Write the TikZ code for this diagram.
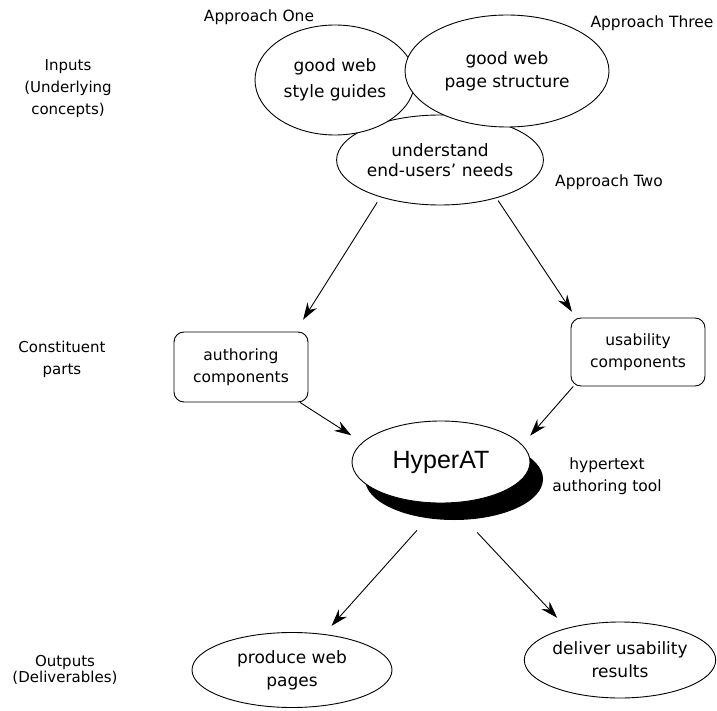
\documentclass[tikz,border=0pt]{standalone}
\usepackage{fontspec}
\setmainfont{DejaVu Sans}
\newfontfamily\helv{Liberation Sans}
\usetikzlibrary{shapes.geometric,arrows.meta}

\begin{document}
\begin{tikzpicture}[x=1pt,y=-1pt,
  bubble/.style={ellipse, draw, line width=0.9pt, fill=white, inner sep=0pt,
    align=center, font=\fontsize{17}{23}\selectfont},
  part/.style={rectangle, rounded corners=10pt, draw, line width=0.9pt,
    inner sep=0pt, minimum width=134pt, align=center,
    font=\fontsize{15.5}{22}\selectfont},
  side/.style={align=center, font=\fontsize{15}{22}\selectfont},
  tag/.style={align=center, font=\fontsize{15.5}{22}\selectfont},
  arr/.style={-{Stealth[length=17pt,width=11pt]}, line width=0.9pt},
]
\useasboundingbox (0,0) rectangle (717,711);

% the three approaches, overlapping
\node[bubble, minimum width=206pt, minimum height=90pt,
      font=\fontsize{17}{20}\selectfont] (e3) at (440,160) {understand\\end-users' needs};
\node[bubble, minimum width=160pt, minimum height=110pt,
      font=\fontsize{17}{26}\selectfont] (e1) at (335,80) {good web\\style guides};
\node[bubble, minimum width=204pt, minimum height=112pt] (e2) at (507,71) {good web\\page structure};

\node[tag] (a1) at (259,17) {Approach One};
\node[tag] (a3) at (652,23) {Approach Three};
\node[tag] (a2) at (609,182) {Approach Two};

% constituent parts
\node[part, minimum height=70pt] (pa) at (241,367) {authoring\\components};
\node[part, minimum height=68pt] (pu) at (638,352) {usability\\components};

% the tool, with its drop shadow
\node[ellipse, fill=black, inner sep=0pt, minimum width=178pt, minimum height=82pt]
      (hyshade) at (454,479) {};
\node[bubble, minimum width=178pt, minimum height=82pt,
      font=\helv\fontsize{25}{28}\selectfont] (hy) at (441,462) {HyperAT};
\node[tag] (hytag) at (607,476) {hypertext\\authoring tool};

% deliverables
\node[bubble, minimum width=200pt, minimum height=75pt] (prod) at (292,670) {produce web\\pages};
\node[bubble, minimum width=186pt, minimum height=76pt] (del) at (620,660) {deliver usability\\results};

% row labels
\node[side] (inputs) at (68,89) {Inputs\\(Underlying\\concepts)};
\node[side] (constituent) at (62,359) {Constituent\\parts};
\node[side, font=\fontsize{15}{16}\selectfont] (outputs) at (65,670) {Outputs\\(Deliverables)};

% flow
\draw[arr, shorten <=6pt, shorten >=14pt] (e3.212) -- (pa.33);
\draw[arr, shorten <=3pt, shorten >=7pt] (e3.326) -- (pu.151);
\draw[arr, shorten >=13pt] (pa.-31) -- (hy.166);
\draw[arr, shorten >=12pt] (pu.208) -- (hy.12);
\draw[arr, shorten <=36pt, shorten >=11pt] (hy.south) -- (prod);
\draw[arr, shorten <=40pt, shorten >=14pt] (hy.282) -- (del.149);
\end{tikzpicture}
\end{document}
